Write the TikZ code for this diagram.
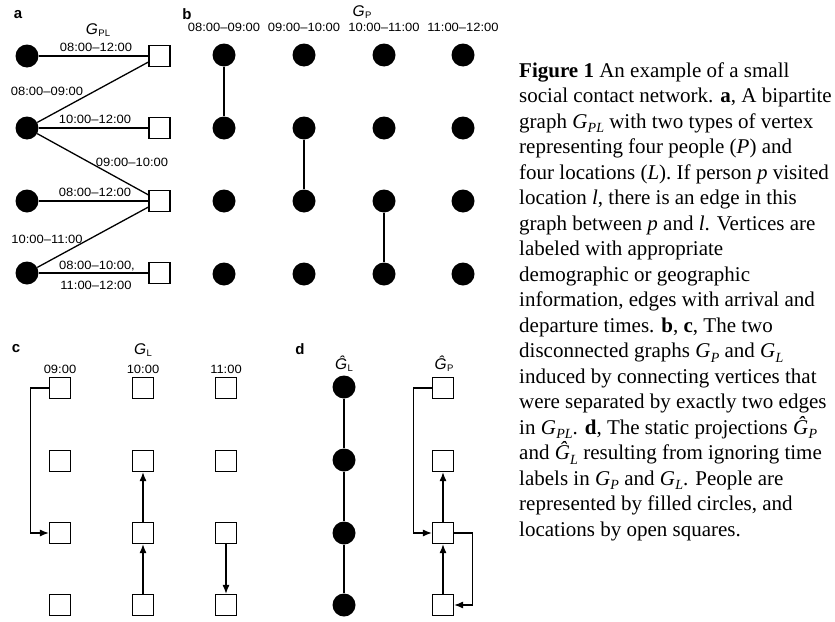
\documentclass[tikz,border=0pt]{standalone}
\usepackage{fontspec}
\setmainfont{Liberation Serif}
\newfontfamily\lab[FakeStretch=1.08]{Liberation Sans}
\newfontfamily\labb{Liberation Sans}
\usetikzlibrary{arrows.meta}
\newcommand\Gs[1]{\textit{G}\kern0.3pt\raisebox{-0.5ex}{\fontsize{14}{14}\selectfont\textit{#1}}}
\newcommand\Gh[1]{\textit{Ĝ}\kern0.3pt\raisebox{-0.5ex}{\fontsize{14}{14}\selectfont\textit{#1}}}
\newcommand\Gd[1]{{\labb\fontsize{15.5}{15.5}\selectfont\textit{G}}\kern0.5pt\raisebox{-0.45ex}{\labb\fontsize{9.5}{9.5}\selectfont #1}}
\newcommand\Ghd[1]{{\labb\fontsize{15.5}{15.5}\selectfont\textit{Ĝ}}\kern0.5pt\raisebox{-0.45ex}{\labb\fontsize{9.5}{9.5}\selectfont #1}}
\begin{document}
\begin{tikzpicture}[x=1pt,y=-1pt,
  person/.style={circle, fill=black, inner sep=0pt, minimum size=23pt},
  loc/.style={draw=black, fill=white, inner sep=0pt, minimum size=21pt, line width=1.1pt},
  edge/.style={line width=1.3pt},
  arr/.style={line width=1.3pt, -{Latex[length=9pt,width=7pt]}},
  tlab/.style={font=\lab\fontsize{12}{12.5}\selectfont, inner sep=0pt},
  plab/.style={font=\labb\bfseries\fontsize{15}{15}\selectfont, inner sep=0pt},
  glab/.style={inner sep=0pt}]
\useasboundingbox (0,0) rectangle (835,621);
% ---------- panel a ----------
\node[plab] (pa) at (18,15) {a};
\node[glab] (gpl) at (98,30) {\Gd{PL}};
\foreach \i/\y in {1/56,2/128,3/201,4/273}{
  \node[person] (a\i) at (27,\y) {};
  \node[loc] (la\i) at (159.5,\y) {};
}
\draw[edge] (a1) -- (la1);
\draw[edge] (a2) -- (la1);
\draw[edge] (a2) -- (la2);
\draw[edge] (a2) -- (la3);
\draw[edge] (a3) -- (la3);
\draw[edge] (a4) -- (la3);
\draw[edge] (a4) -- (la4);
\node[tlab] (ta1) at (96,47) {08:00–12:00};
\node[tlab] (ta2) at (47,91) {08:00–09:00};
\node[tlab] (ta3) at (95,119) {10:00–12:00};
\node[tlab] (ta4) at (132,162) {09:00–10:00};
\node[tlab] (ta5) at (95,192) {08:00–12:00};
\node[tlab] (ta6) at (47,239) {10:00–11:00};
\node[tlab] (ta7) at (97,266) {08:00–10:00,};
\node[tlab] (ta8) at (96,285) {11:00–12:00};
% ---------- panel b ----------
\node[plab] (pb) at (187,14) {b};
\node[glab] (gp) at (362,12) {\Gd{P}};
\foreach \j/\x/\t in {1/224/08:00–09:00,2/304/09:00–10:00,3/384/10:00–11:00,4/463/11:00–12:00}{
  \node[tlab] (hb\j) at (\x,27) {\t};
  \foreach \i/\y in {1/55,2/128,3/201,4/274}{
    \node[person] (b\j\i) at (\x,\y) {};
  }
}
\draw[edge] (b11) -- (b12);
\draw[edge] (b22) -- (b23);
\draw[edge] (b33) -- (b34);
% ---------- panel c ----------
\node[plab] (pc) at (16,349) {c};
\node[glab] (gl) at (143,350) {\Gd{L}};
\foreach \j/\x/\t in {1/60/09:00,2/143/10:00,3/226/11:00}{
  \node[tlab] (hc\j) at (\x,369) {\t};
  \foreach \i/\y in {1/388,2/461,3/533,4/605}{
    \node[loc] (c\j\i) at (\x,\y) {};
  }
}
\draw[arr] (c11.west) -- ++(-18.5,0) |- (c13.west);
\draw[arr] (c24) -- (c23);
\draw[arr] (c23) -- (c22);
\draw[arr] (c33) -- (c34);
% ---------- panel d ----------
\node[plab] (pd) at (300,349) {d};
\node[glab] (ghl) at (344,364) {\Ghd{L}};
\node[glab] (ghp) at (444,364) {\Ghd{P}};
\foreach \i/\y in {1/387,2/460,3/533,4/605}{
  \node[person] (dp\i) at (344,\y) {};
}
\foreach \i/\y in {1/388,2/461,3/533,4/605}{
  \node[loc] (dl\i) at (443,\y) {};
}
\draw[edge] (dp1) -- (dp2) -- (dp3) -- (dp4);
\draw[arr] (dl1.west) -- ++(-18.5,0) |- (dl3.west);
\draw[arr] (dl4) -- (dl3);
\draw[arr] (dl3) -- (dl2);
\draw[arr] (dl3.east) -- ++(18.5,0) |- (dl4.east);
% ---------- caption ----------
\node[anchor=base west, inner sep=0pt, align=left,
      font=\fontsize{21}{25.5}\selectfont] (cap) at (519,536) {%
\textbf{Figure 1} An example of a small\\
social contact network. \textbf{a}, A bipartite\\
graph \Gs{PL} with two types of vertex\\
representing four people (\textit{P}) and\\
four locations (\textit{L}). If person \textit{p} visited\\
location \textit{l}, there is an edge in this\\
graph between \textit{p} and \textit{l}. Vertices are\\
labeled with appropriate\\
demographic or geographic\\
information, edges with arrival and\\
departure times. \textbf{b}, \textbf{c}, The two\\
disconnected graphs \Gs{P} and \Gs{L}\\
induced by connecting vertices that\\
were separated by exactly two edges\\
in \Gs{PL}. \textbf{d}, The static projections \Gh{P}\\
and \Gh{L} resulting from ignoring time\\
labels in \Gs{P} and \Gs{L}. People are\\
represented by filled circles, and\\
locations by open squares.};
\end{tikzpicture}
\end{document}
